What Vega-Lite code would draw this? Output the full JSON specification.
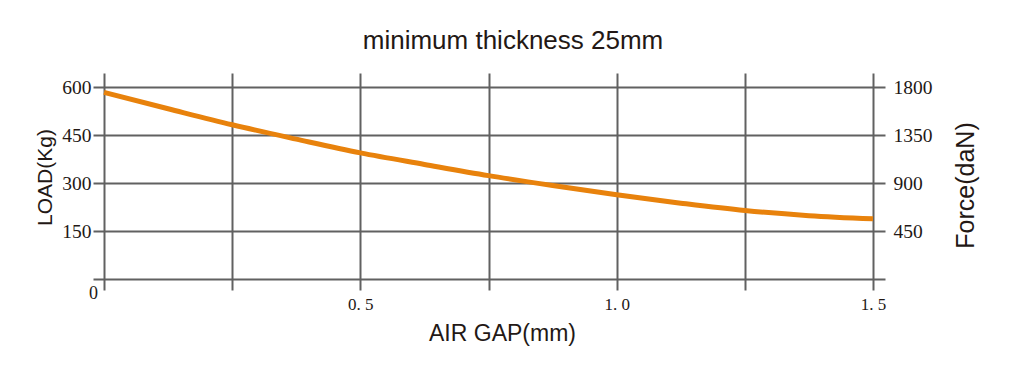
{
  "$schema": "https://vega.github.io/schema/vega-lite/v6.json",
  "width": 792,
  "height": 206,
  "autosize": "none",
  "padding": {"left": 93, "top": 73, "right": 131, "bottom": 91},
  "background": "white",
  "title": {
    "text": "minimum thickness 25mm",
    "fontSize": 26,
    "font": "Liberation Sans",
    "fontWeight": "normal",
    "color": "#231815",
    "anchor": "middle",
    "dx": 24,
    "offset": 19
  },
  "config": {
    "view": {"stroke": null},
    "axis": {
      "gridColor": "#616161",
      "gridWidth": 2,
      "gridOpacity": 1,
      "domain": false,
      "labelFont": "Liberation Serif",
      "labelColor": "#231815",
      "titleFont": "Liberation Sans",
      "titleFontWeight": "normal",
      "titleColor": "#231815"
    }
  },
  "data": {
    "values": [
      {"gap": 0, "load": 583},
      {"gap": 0.125, "load": 532},
      {"gap": 0.25, "load": 482},
      {"gap": 0.375, "load": 437},
      {"gap": 0.5, "load": 394},
      {"gap": 0.625, "load": 358},
      {"gap": 0.75, "load": 323},
      {"gap": 0.875, "load": 292},
      {"gap": 1.0, "load": 263},
      {"gap": 1.125, "load": 237},
      {"gap": 1.25, "load": 214},
      {"gap": 1.375, "load": 198},
      {"gap": 1.5, "load": 188}
    ]
  },
  "layer": [
    {
      "mark": {"type": "line", "color": "#e8820c", "strokeWidth": 5, "interpolate": "monotone"},
      "encoding": {
        "x": {
          "field": "gap",
          "type": "quantitative",
          "scale": {"domain": [-0.0215, 1.5234], "nice": false, "zero": false},
          "axis": {
            "values": [0, 0.25, 0.5, 0.75, 1, 1.25, 1.5],
            "grid": true,
            "ticks": true,
            "tickSize": 11,
            "tickColor": "#616161",
            "tickWidth": 2,
            "labelExpr": "datum.value == 0 ? '0' : ((datum.value * 2) % 1 == 0 ? replace(format(datum.value, '.1f'), '.', '. ') : '')",
            "labelFontSize": {"condition": {"test": "datum.value == 0", "value": 18}, "value": 17},
            "labelOffset": {"condition": {"test": "datum.value == 0", "value": -11}, "value": 0},
            "labelPadding": {"condition": {"test": "datum.value == 0", "value": -6}, "value": 6},
            "labelOverlap": false,
            "labelFlush": false,
            "labelBound": false,
            "title": "AIR GAP(mm)",
            "titleFontSize": 23,
            "titleX": 409,
            "titleY": 61,
            "titleBaseline": "alphabetic",
            "titleAlign": "center"
          }
        },
        "y": {
          "field": "load",
          "type": "quantitative",
          "scale": {"domain": [0, 643.75], "nice": false},
          "axis": {
            "values": [0, 150, 300, 450, 600],
            "grid": true,
            "ticks": false,
            "labelExpr": "datum.value == 0 ? '' : datum.label",
            "labelFontSize": 19.5,
            "labelPadding": 2,
            "labelBaseline": "middle",
            "title": "LOAD(Kg)",
            "titleFontSize": 21,
            "titleAngle": -90,
            "titleX": -41.5,
            "titleY": 104,
            "titleAlign": "center",
            "titleBaseline": "alphabetic"
          }
        }
      }
    },
    {
      "mark": {"type": "line", "opacity": 0},
      "encoding": {
        "x": {"field": "gap", "type": "quantitative"},
        "y": {
          "field": "load",
          "type": "quantitative",
          "scale": {"domain": [0, 1931.25], "nice": false},
          "axis": {
            "orient": "right",
            "values": [450, 900, 1350, 1800],
            "format": "d",
            "grid": false,
            "ticks": false,
            "labelFontSize": 19.5,
            "labelPadding": 8,
            "labelBaseline": "middle",
            "title": "Force(daN)",
            "titleFontSize": 25,
            "titleAngle": -90,
            "titleX": 88,
            "titleY": 112,
            "titleAlign": "center",
            "titleBaseline": "alphabetic"
          }
        }
      }
    }
  ],
  "resolve": {"scale": {"y": "independent"}, "axis": {"y": "independent"}}
}
